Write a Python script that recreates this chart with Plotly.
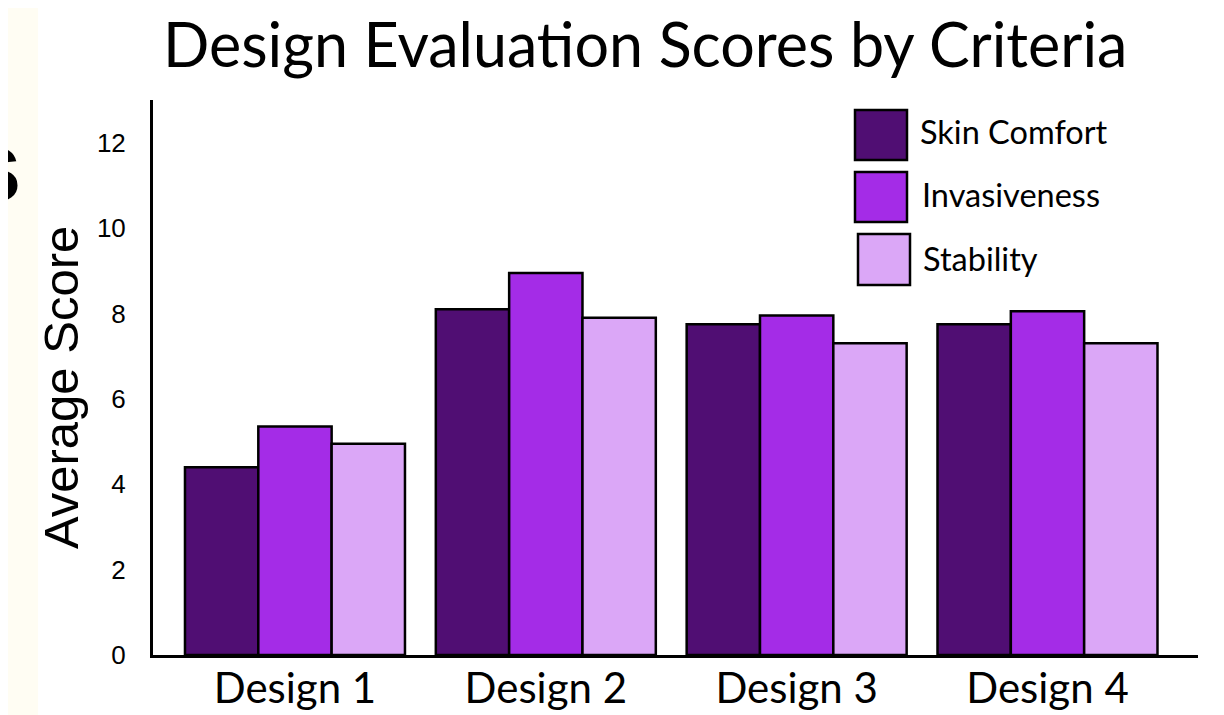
import plotly.graph_objects as go

categories = ["Design 1", "Design 2", "Design 3", "Design 4"]
series_names = ["Skin Comfort", "Invasiveness", "Stability"]
skin_comfort = [4.4, 8.1, 7.75, 7.75]
invasiveness = [5.35, 8.95, 7.95, 8.05]
stability = [4.95, 7.9, 7.3, 7.3]
colors = ["#500E73", "#A42CE7", "#DBA7F7"]
y_ticks = [0, 2, 4, 6, 8, 10, 12]

# The page body has an 8px margin; the figure starts 8px in and reaches the window's right/bottom edges.
OFF = 8
W, H = 1224 - OFF, 715 - OFF
# plot area in screen pixels
SX0, SX1, SY0, SY1 = 153, 1198, 100, 655
L = SX0 - OFF
T = SY0 - OFF
R = W - (SX1 - OFF)
B = H - (SY1 - OFF)
PW, PH = SX1 - SX0, SY1 - SY0

def px(x):  # screen x -> paper
    return (x - SX0) / PW

def py(y):  # screen y -> paper
    return (SY1 - y) / PH

fig = go.Figure()
for name, vals, col in zip(series_names, [skin_comfort, invasiveness, stability], colors):
    fig.add_trace(go.Bar(
        x=categories, y=vals, name=name,
        marker=dict(color=col, line=dict(color="black", width=2.5)),
        showlegend=False,
    ))

shapes = [
    dict(type="rect", xref="paper", yref="paper", x0=px(38), x1=px(1220), y0=py(760), y1=py(-40),
         fillcolor="white", line=dict(width=0), layer="below"),
]
annotations = []
legend_boxes = [(855, 907, 110, 160, 918, 131), (855, 907, 172, 222, 920, 194), (858, 910, 234, 285, 921, 258)]
for (x0, x1, y0, y1, tx, ty), name, col in zip(legend_boxes, series_names, colors):
    shapes.append(dict(type="rect", xref="paper", yref="paper", x0=px(x0), x1=px(x1), y0=py(y1), y1=py(y0),
                       fillcolor=col, line=dict(color="black", width=2.5)))
    annotations.append(dict(text=name, xref="paper", yref="paper", x=px(tx), y=py(ty), xanchor="left",
                            yanchor="middle", showarrow=False, font=dict(family="Lato", size=32.5, color="black")))

annotations.append(dict(text="Average Score", xref="paper", yref="paper", x=px(61), y=py(388), textangle=-90,
                        xanchor="center", yanchor="middle", showarrow=False,
                        font=dict(family="Liberation Sans", size=49, color="black")))
annotations.append(dict(text="<b>s</b>", xref="paper", yref="paper", x=px(24), y=py(166), xanchor="right",
                        yanchor="middle", showarrow=False,
                        font=dict(family="Liberation Sans", size=100, color="black")))
annotations.append(dict(text="Design Evaluation Scores by Criteria", xref="paper", yref="paper",
                        x=px(645), y=py(44), xanchor="center", yanchor="middle", showarrow=False,
                        font=dict(family="Lato", size=61, color="black")))

fig.update_layout(
    width=W, height=H,
    margin=dict(l=L, r=R, t=T, b=B, autoexpand=False),
    paper_bgcolor="#FFFDF3",
    plot_bgcolor="rgba(0,0,0,0)",
    barmode="group", bargap=0.123, bargroupgap=0,
    shapes=shapes, annotations=annotations,
    xaxis=dict(range=[-0.566, 3.6], showline=True, linecolor="black", linewidth=3, showgrid=False,
               ticks="", tickfont=dict(family="Lato", size=42, color="black"), ticklabelstandoff=-5,
               zeroline=False, automargin=False),
    yaxis=dict(range=[0, 13], showline=True, linecolor="black", linewidth=3, showgrid=False,
               tickvals=y_ticks, ticks="", tickfont=dict(family="Liberation Sans", size=26, color="black"),
               ticklabelstandoff=19, zeroline=False, automargin=False),
)

fig.write_html("out.html")
